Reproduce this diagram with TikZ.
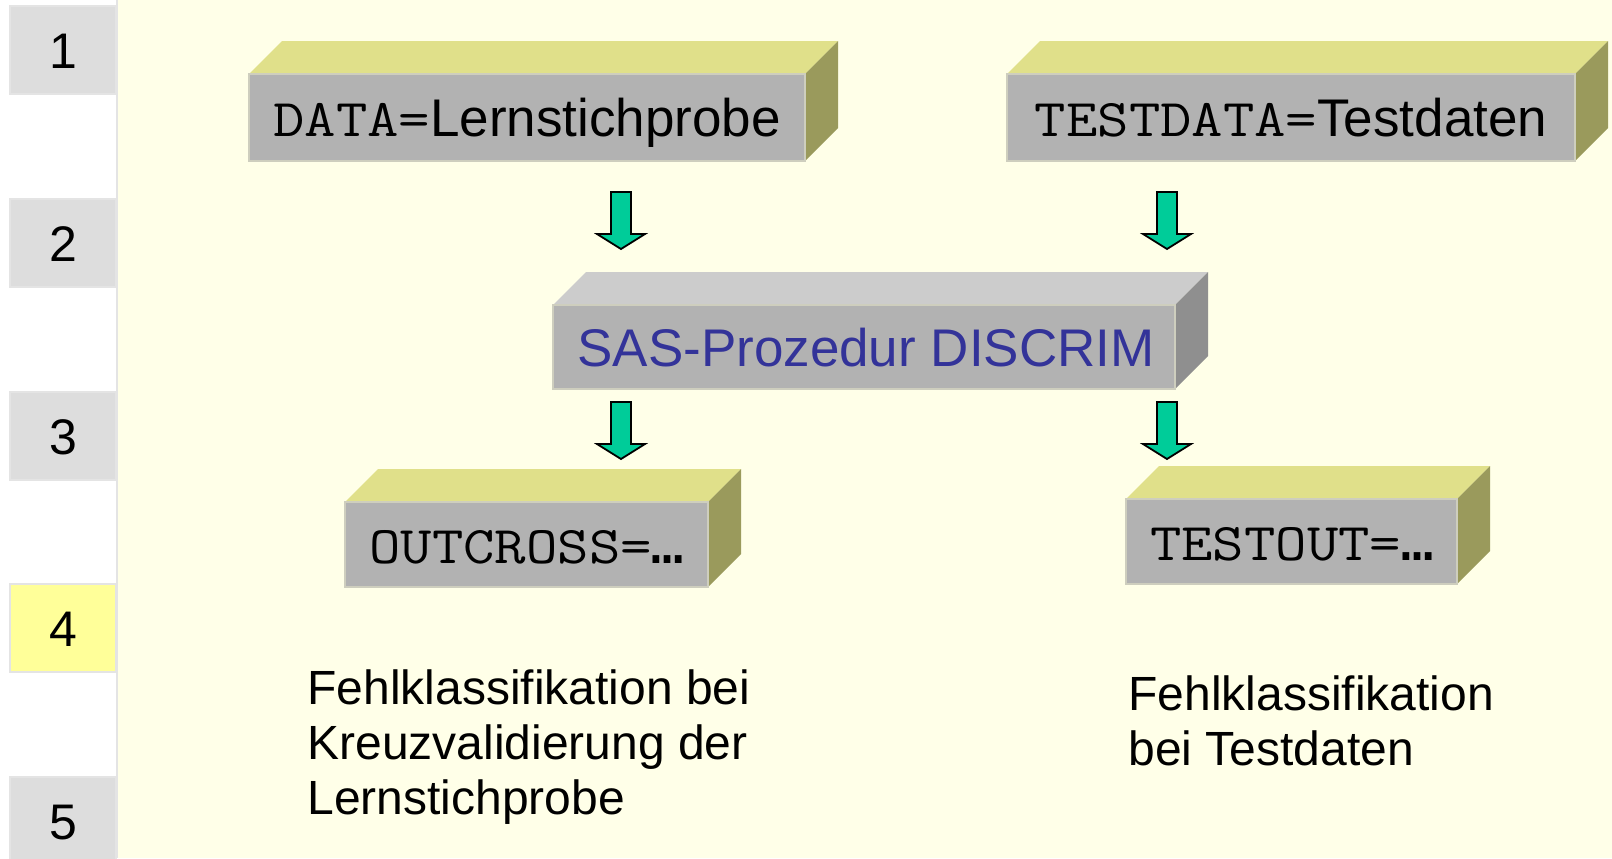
\documentclass[tikz,border=0pt]{standalone}
\usepackage{fontspec}
\setmainfont{Liberation Sans}
\newfontfamily\lmonof{Liberation Mono}
\definecolor{bg}{RGB}{255,255,232}
\definecolor{sepgray}{RGB}{228,228,228}
\definecolor{numgray}{RGB}{221,221,221}
\definecolor{numyellow}{RGB}{255,255,153}
\definecolor{ytop}{RGB}{224,224,138}
\definecolor{yfront}{RGB}{178,178,178}
\definecolor{yside}{RGB}{154,154,92}
\definecolor{gtop}{RGB}{204,204,204}
\definecolor{gfront}{RGB}{178,178,178}
\definecolor{gside}{RGB}{143,143,143}
\definecolor{edge}{RGB}{206,206,190}
\definecolor{arrowfill}{RGB}{0,204,153}
\definecolor{discblue}{RGB}{51,51,153}
\newcommand\mytt[1]{\scalebox{1.15}[1]{\ttfamily #1}}
% 3D slab: #1 x1, #2 y1, #3 x2, #4 y2, #5 colour prefix (y or g)
\newcommand\slab[5]{%
  \fill[#5top] (#1,#2) -- (#1+33,#2-33) -- (#3+33,#2-33) -- (#3,#2) -- cycle;
  \fill[#5side] (#3,#2) -- (#3+33,#2-33) -- (#3+33,#4-33) -- (#3,#4) -- cycle;
  \fill[#5front] (#1,#2) rectangle (#3,#4);
  \draw[edge, line width=0.7pt] (#1,#2) rectangle (#3,#4);
}
% block arrow pointing down: #1 name, #2 centre x, #3 top y
\newcommand\blockdown[3]{%
  \coordinate (#1) at (#2,#3);
  \draw[blockarrow] (#1) ++(-10,0) -- ++(20,0) -- ++(0,42) -- ++(14,0)
    -- ++(-24,15) -- ++(-24,-15) -- ++(14,0) -- cycle;
}
\tikzset{
  blockarrow/.style={fill=arrowfill, draw=black, line width=0.9pt, line join=miter},
  numbox/.style={fill=numgray, draw=sepgray, line width=0.6pt, minimum width=53pt,
    minimum height=44pt, inner sep=0pt, text height=18pt, text depth=0pt,
    font=\fontsize{25}{30}\selectfont},
  boxtext/.style={inner sep=0pt, text height=19pt, text depth=0pt,
    font=\fontsize{26.5}{30}\selectfont},
  note/.style={inner sep=0pt, anchor=north west, align=left,
    font=\fontsize{24}{27.5}\selectfont}
}
\begin{document}
\begin{tikzpicture}[x=0.5pt,y=-0.5pt]
\useasboundingbox (0,0) rectangle (1612,858);
% background
\fill[white] (0,0) rectangle (118,858);
\fill[bg] (118,0) rectangle (1612,858);
\fill[sepgray] (116,0) rectangle (118,858);
% sidebar numbers
\node[numbox] (n1) at (63,50) {1};
\node[numbox] (n2) at (63,243) {2};
\node[numbox] (n3) at (63,436) {3};
\node[numbox, fill=numyellow] (n4) at (63,628) {4};
\node[numbox] (n5) at (63,821) {5};
% slabs
\slab{249}{74}{805}{161}{y}
\node[boxtext] (data) at (527,117.5) {\mytt{DATA=}Lernstichprobe};
\slab{1007}{74}{1575}{161}{y}
\node[boxtext] (testdata) at (1291,117.5) {\mytt{TESTDATA=}Testdaten};
\slab{553}{305}{1175}{389}{g}
\node[boxtext, text=discblue] (discrim) at (866,347) {SAS-Prozedur DISCRIM};
\slab{345}{502}{708}{587}{y}
\node[boxtext] (outcross) at (526.5,544.5) {\mytt{OUTCROSS=}{\lmonof\bfseries …}};
\slab{1126}{499}{1457}{584}{y}
\node[boxtext] (testout) at (1291.5,541.5) {\mytt{TESTOUT=}{\lmonof\bfseries …}};
% arrows
\blockdown{a1}{621}{192}
\blockdown{a2}{1167}{192}
\blockdown{a3}{621}{402}
\blockdown{a4}{1167}{402}
% notes
\node[note] (noteleft) at (307,669) {Fehlklassifikation bei\\Kreuzvalidierung der\\Lernstichprobe};
\node[note] (noteright) at (1128,675) {Fehlklassifikation\\bei Testdaten};
\end{tikzpicture}
\end{document}
